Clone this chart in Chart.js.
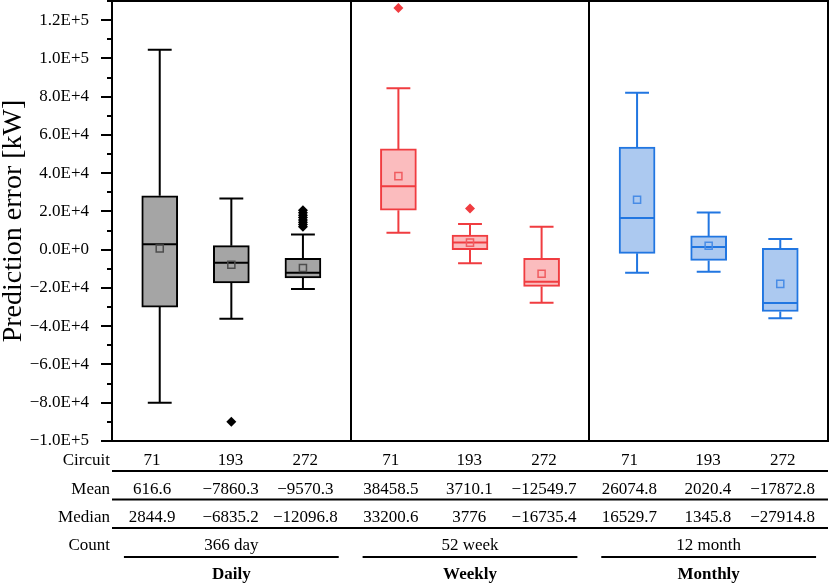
<!DOCTYPE html>
<html>
<head>
<meta charset="utf-8">
<title>Prediction error</title>
<script src="https://cdn.jsdelivr.net/npm/chart.js@4.4.1/dist/chart.umd.min.js"></script>
<style>
  html, body { margin: 0; padding: 0; background: #fff; }
  canvas { display: block; }
</style>
</head>
<body>
<canvas id="chart" width="830" height="585"></canvas>
<script>
// categories
const groups = ['Daily', 'Weekly', 'Monthly'];
const counts = ['366 day', '52 week', '12 month'];
const circuits = ['71', '193', '272', '71', '193', '272', '71', '193', '272'];

// box statistics, one entry per circuit (daily x3, weekly x3, monthly x3)
const whiskerLow  = [-80000, -36100, -20600,   8900,  -7150, -27750, -12000, -11500, -35800];
const quartile1   = [-30000, -17400, -14700,  20600,      0, -19200,  -1900,  -5600, -32300];
const medians     = [2844.9, -6835.2, -12096.8, 33200.6, 3776, -16735.4, 16529.7, 1345.8, -27914.8];
const quartile3   = [ 28200,   2100,  -4500,  52700,   7700,  -4500,  53600,   7200,    700];
const whiskerHigh = [104500,  26700,   8000,  84400,  13400,  12000,  82000,  19400,   5600];
const means       = [616.6, -7860.3, -9570.3, 38458.5, 3710.1, -12549.7, 26074.8, 2020.4, -17872.8];
const outliers = [
  [],
  [-89900],
  [12000, 13200, 14300, 15500, 16800, 18000, 19300, 20600],
  [126300],
  [21500],
  [],
  [],
  [],
  []
];

// y axis
const yMin = -100000;
const yMax = 130000;
const yStep = 10000;

// look per group
const edgeColors = ['#000000', 'rgb(240,60,64)', 'rgb(33,118,225)'];
const fillColors = ['#a5a5a5', 'rgb(251,188,190)', 'rgb(172,201,240)'];
const meanColors = ['#4d4d4d', 'rgb(240,92,96)', 'rgb(72,140,230)'];

const FONT = "'Liberation Serif', 'Times New Roman', serif";
Chart.defaults.font.family = FONT;
Chart.defaults.color = '#000';

// slot of each box inside its group, group i runs from i to i+1 on x
const slots = [0.2, 0.5, 0.8];
const tableSlots = [0.168, 0.497, 0.81];
const groupOf = i => Math.floor(i / 3);
const posOf = i => groupOf(i) + slots[i % 3];

const fmtNum = v => String(v).replace('-', '\u2212');

function fmtTick(v) {
  if (Math.round(v / yStep) % 2 !== 0) return '';
  if (Math.abs(v) < 1) return '0.0E+0';
  const e = Math.floor(Math.log10(Math.abs(v)) + 1e-9);
  const m = (v / Math.pow(10, e)).toFixed(1);
  return fmtNum(m) + 'E+' + e;
}

// whiskers, caps and median lines, one line dataset per group
function whiskerData(g) {
  const pts = [];
  for (let i = g * 3; i < g * 3 + 3; i++) {
    const x = posOf(i);
    const segs = [
      [[x, quartile3[i]], [x, whiskerHigh[i]]],
      [[x - 0.05, whiskerHigh[i]], [x + 0.05, whiskerHigh[i]]],
      [[x, quartile1[i]], [x, whiskerLow[i]]],
      [[x - 0.05, whiskerLow[i]], [x + 0.05, whiskerLow[i]]],
      [[x - 0.074, medians[i]], [x + 0.074, medians[i]]]
    ];
    segs.forEach(s => {
      s.forEach(p => pts.push({x: p[0], y: p[1]}));
      pts.push({x: s[1][0], y: null});
    });
  }
  return pts;
}

const boxIdx = circuits.map((c, i) => i);

const datasets = [
  {
    type: 'bar',
    data: boxIdx.map(i => ({x: posOf(i), y: [quartile1[i], quartile3[i]]})),
    backgroundColor: boxIdx.map(i => fillColors[groupOf(i)]),
    borderColor: boxIdx.map(i => edgeColors[groupOf(i)]),
    borderWidth: 2,
    borderSkipped: false,
    barThickness: 36,
    order: 3
  }
];

groups.forEach((g, gi) => {
  datasets.push({
    type: 'line',
    data: whiskerData(gi),
    borderColor: edgeColors[gi],
    borderWidth: 2,
    pointRadius: 0,
    pointHitRadius: 0,
    spanGaps: false,
    fill: false,
    tension: 0,
    order: 2
  });
});

datasets.push({
  type: 'scatter',
  data: boxIdx.map(i => ({x: posOf(i), y: means[i]})),
  pointStyle: 'rect',
  pointRadius: 5,
  pointBorderWidth: 1.5,
  pointBackgroundColor: 'rgba(0,0,0,0)',
  pointBorderColor: boxIdx.map(i => meanColors[groupOf(i)]),
  order: 1
});

const outPts = [];
const outCols = [];
outliers.forEach((list, i) => list.forEach(v => {
  outPts.push({x: posOf(i), y: v});
  outCols.push(edgeColors[groupOf(i)]);
}));
datasets.push({
  type: 'scatter',
  data: outPts,
  pointStyle: 'rectRot',
  pointRadius: 5,
  pointBorderWidth: 0,
  pointBackgroundColor: outCols,
  order: 0
});

// frame, panel separators, y tick marks and the statistics table
const framePlugin = {
  id: 'framePlugin',
  afterDraw(chart) {
    const {ctx, chartArea: a, scales: {x, y}} = chart;
    const seg = (x1, y1, x2, y2) => {
      ctx.beginPath();
      ctx.moveTo(x1, y1);
      ctx.lineTo(x2, y2);
      ctx.stroke();
    };
    ctx.save();
    ctx.strokeStyle = '#000';
    ctx.lineWidth = 2;
    ctx.strokeRect(a.left, a.top, a.right - a.left, a.bottom - a.top);
    for (let p = 1; p < groups.length; p++) {
      const px = Math.round(x.getPixelForValue(p));
      seg(px, a.top, px, a.bottom);
    }
    y.ticks.forEach(t => {
      const py = Math.round(y.getPixelForValue(t.value));
      const major = Math.round(t.value / yStep) % 2 === 0;
      seg(a.left - (major ? 11 : 5), py, a.left, py);
    });

    // table rows
    const b = a.bottom;
    ctx.fillStyle = '#000';
    ctx.font = '17px ' + FONT;
    ctx.textBaseline = 'alphabetic';
    const rows = [
      ['Circuit', circuits],
      ['Mean', means.map(fmtNum)],
      ['Median', medians.map(fmtNum)]
    ];
    const baseY = [24, 52.5, 81];
    const lineY = [30, 58.5, 87];
    rows.forEach((r, ri) => {
      ctx.textAlign = 'right';
      ctx.fillText(r[0], a.left - 2, b + baseY[ri]);
      ctx.textAlign = 'center';
      r[1].forEach((txt, i) => {
        const cx = x.getPixelForValue(groupOf(i) + tableSlots[i % 3]);
        ctx.fillText(txt, cx, b + baseY[ri]);
      });
      seg(a.left, b + lineY[ri], a.right, b + lineY[ri]);
    });

    ctx.textAlign = 'right';
    ctx.fillText('Count', a.left - 2, b + 109);
    ctx.textAlign = 'center';
    groups.forEach((g, gi) => {
      const cx = x.getPixelForValue(gi + 0.5);
      ctx.font = '17px ' + FONT;
      ctx.fillText(counts[gi], cx, b + 109);
      seg(x.getPixelForValue(gi + 0.05), b + 116, x.getPixelForValue(gi + 0.95), b + 116);
      ctx.font = 'bold 17px ' + FONT;
      ctx.fillText(g, cx, b + 138);
    });
    ctx.restore();
  }
};

new Chart(document.getElementById('chart'), {
  type: 'bar',
  data: {datasets},
  options: {
    responsive: false,
    animation: false,
    devicePixelRatio: 1,
    events: [],
    layout: {autoPadding: false, padding: {top: 1, right: 2, bottom: 144, left: 0}},
    plugins: {legend: {display: false}, tooltip: {enabled: false}},
    scales: {
      x: {
        type: 'linear',
        min: 0,
        max: groups.length,
        offset: false,
        display: false
      },
      y: {
        type: 'linear',
        min: yMin,
        max: yMax,
        border: {display: false},
        grid: {display: false, drawTicks: false},
        ticks: {
          stepSize: yStep,
          maxTicksLimit: 100,
          autoSkip: false,
          padding: 23,
          color: '#000',
          font: {size: 17},
          callback: v => fmtTick(v)
        },
        title: {
          display: true,
          text: 'Prediction error [kW]',
          color: '#000',
          font: {size: 28, lineHeight: 1},
          padding: {top: 0, bottom: 0}
        },
        afterFit(s) {
          s.width = 112;
          s.paddingTop = 0;
          s.paddingBottom = 0;
        }
      }
    }
  },
  plugins: [framePlugin]
});
</script>
</body>
</html>
